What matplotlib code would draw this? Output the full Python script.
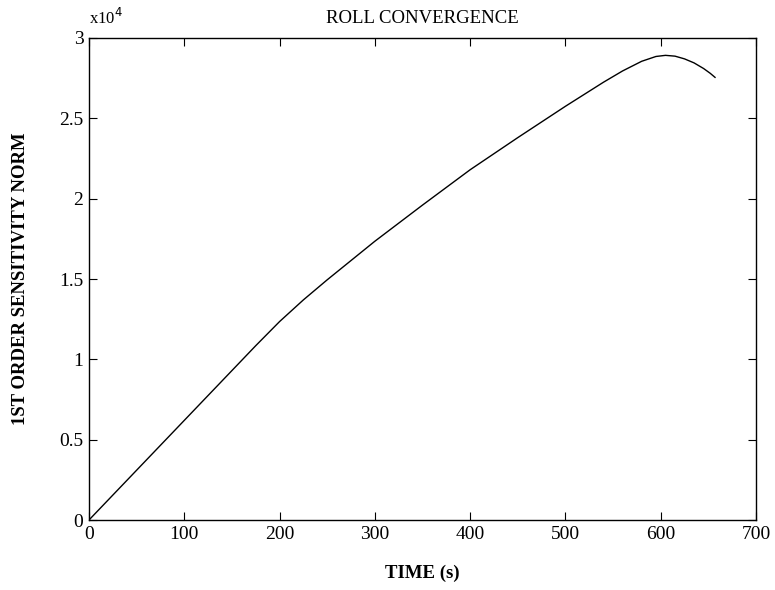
import matplotlib
matplotlib.use("Agg")
import matplotlib.pyplot as plt
from matplotlib.ticker import FuncFormatter

# roll channel: first order sensitivity norm against time
time_s = [0, 50, 100, 150, 175, 200, 225, 250, 275, 300, 350, 400, 450,
          500, 540, 560, 580, 595, 605, 615, 625, 635, 645, 652, 657]
sens_norm = [0, 3100, 6200, 9300, 10850, 12350, 13700, 14950, 16150,
             17350, 19600, 21800, 23800, 25750, 27250, 27950, 28550,
             28850, 28920, 28870, 28700, 28450, 28100, 27800, 27550]

x_ticks = [0, 100, 200, 300, 400, 500, 600, 700]
y_ticks = [0, 5000, 10000, 15000, 20000, 25000, 30000]

plt.rcParams['font.family'] = ['Liberation Serif', 'DejaVu Serif']

fig = plt.figure(figsize=(7.75, 5.9), dpi=100)
ax = fig.add_axes([0.1148, 0.1186, 0.8607, 0.817])

ax.plot(time_s, sens_norm, color='black', linewidth=1.0)

ax.set_xlim(0, 700)
ax.set_ylim(0, 30000)
ax.set_xticks(x_ticks)
ax.set_yticks(y_ticks)
ax.yaxis.set_major_formatter(FuncFormatter(lambda v, p: f"{v / 1e4:g}"))

ax.tick_params(direction='in', top=True, right=True, length=6, width=0.8,
               labelsize=14, pad=4)
for s in ax.spines.values():
    s.set_linewidth(1.0)

ax.set_title("ROLL CONVERGENCE", fontsize=13.5, pad=11)
ax.set_xlabel("TIME (s)", fontsize=13.5, fontweight='bold', labelpad=16)
ax.set_ylabel("1ST ORDER SENSITIVITY NORM", fontsize=13.5,
              fontweight='bold', labelpad=22)
ax.text(0.0, 1.02, r"x10$^4$", transform=ax.transAxes, fontsize=12,
        ha='left', va='bottom')

fig.savefig("out.png", dpi=100)
